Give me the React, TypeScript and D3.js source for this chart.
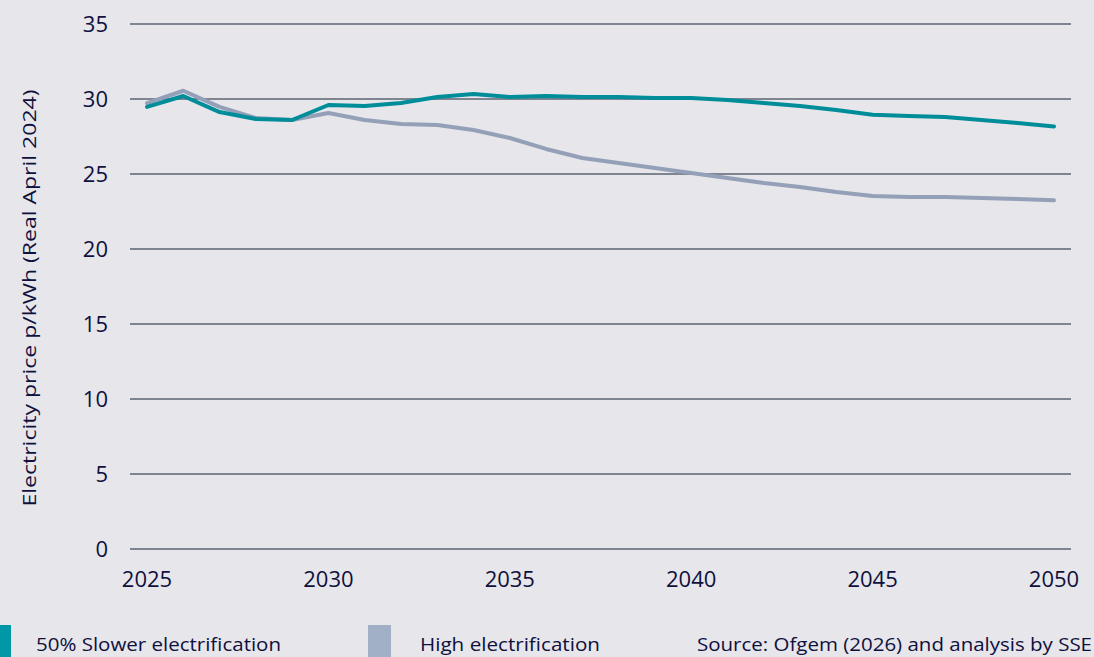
import React from "react";
import * as d3 from "d3";

const years = d3.range(2025, 2051);
const slowerElectrification = [
  29.47, 30.2, 29.13, 28.67, 28.6, 29.6, 29.53, 29.73, 30.13, 30.33,
  30.13, 30.2, 30.13, 30.13, 30.07, 30.07, 29.93, 29.73, 29.53, 29.27,
  28.95, 28.87, 28.8, 28.6, 28.4, 28.17,
];
const highElectrification = [
  29.73, 30.55, 29.47, 28.73, 28.6, 29.07, 28.6, 28.33, 28.27, 27.93,
  27.4, 26.67, 26.07, 25.73, 25.4, 25.07, 24.73, 24.4, 24.13, 23.8,
  23.53, 23.47, 23.47, 23.4, 23.33, 23.25,
];
const yTicks = [0, 5, 10, 15, 20, 25, 30, 35];
const xTicks = [2025, 2030, 2035, 2040, 2045, 2050];
const seriesNames = ["50% Slower electrification", "High electrification"];
const yTitle = "Electricity price p/kWh (Real April 2024)";
const sourceText = "Source: Ofgem (2026) and analysis by SSE";

const W = 1094;
const H = 657;
const FONT = "'Open Sans', 'Noto Sans', sans-serif";
const TEXT = "#10103d";
const BG = "#e6e6eb";
const GRID = "#5b6572";
const TEAL = "#008d9a";
const GREY = "#94a0b8";

export default function App() {
  const x = d3.scaleLinear().domain([2025, 2050]).range([147, 1054]);
  const y = d3.scaleLinear().domain([0, 35]).range([549, 24]);
  const line = d3
    .line<number>()
    .x((_, i) => x(years[i]))
    .y((d) => y(d));

  return (
    <svg
      width={W}
      height={H}
      style={{ position: "fixed", left: 0, top: 0, display: "block" }}
      fontFamily={FONT}
    >
      <rect width={W} height={H} fill={BG} />
      {yTicks.map((t) => (
        <g key={t}>
          <line x1={130} x2={1071} y1={y(t)} y2={y(t)} stroke={GRID} strokeWidth={1.5} />
          <text x={108} y={y(t)} dy="0.36em" textAnchor="end" fontSize={22} fill={TEXT}>
            {t}
          </text>
        </g>
      ))}
      {xTicks.map((t) => (
        <text key={t} x={x(t)} y={587} textAnchor="middle" fontSize={22} fill={TEXT}>
          {t}
        </text>
      ))}
      <text
        transform={`translate(36,298) rotate(-90)`}
        textAnchor="middle"
        fontSize={18}
        fill={TEXT}
        textLength={417}
        lengthAdjust="spacingAndGlyphs"
      >
        {yTitle}
      </text>
      <path
        d={line(highElectrification) ?? ""}
        fill="none"
        stroke={GREY}
        strokeWidth={4}
        strokeLinejoin="round"
        strokeLinecap="round"
      />
      <path
        d={line(slowerElectrification) ?? ""}
        fill="none"
        stroke={TEAL}
        strokeWidth={4}
        strokeLinejoin="round"
        strokeLinecap="round"
      />
      <rect x={0} y={625} width={11} height={32} fill="#0097a7" />
      <text x={36} y={651} fontSize={18} fill={TEXT} textLength={245} lengthAdjust="spacingAndGlyphs">
        {seriesNames[0]}
      </text>
      <rect x={368} y={625} width={23} height={32} fill="#a2b0c7" />
      <text x={420} y={651} fontSize={18} fill={TEXT} textLength={180} lengthAdjust="spacingAndGlyphs">
        {seriesNames[1]}
      </text>
      <text x={697} y={651} fontSize={18} fill={TEXT} textLength={395} lengthAdjust="spacingAndGlyphs">
        {sourceText}
      </text>
    </svg>
  );
}
